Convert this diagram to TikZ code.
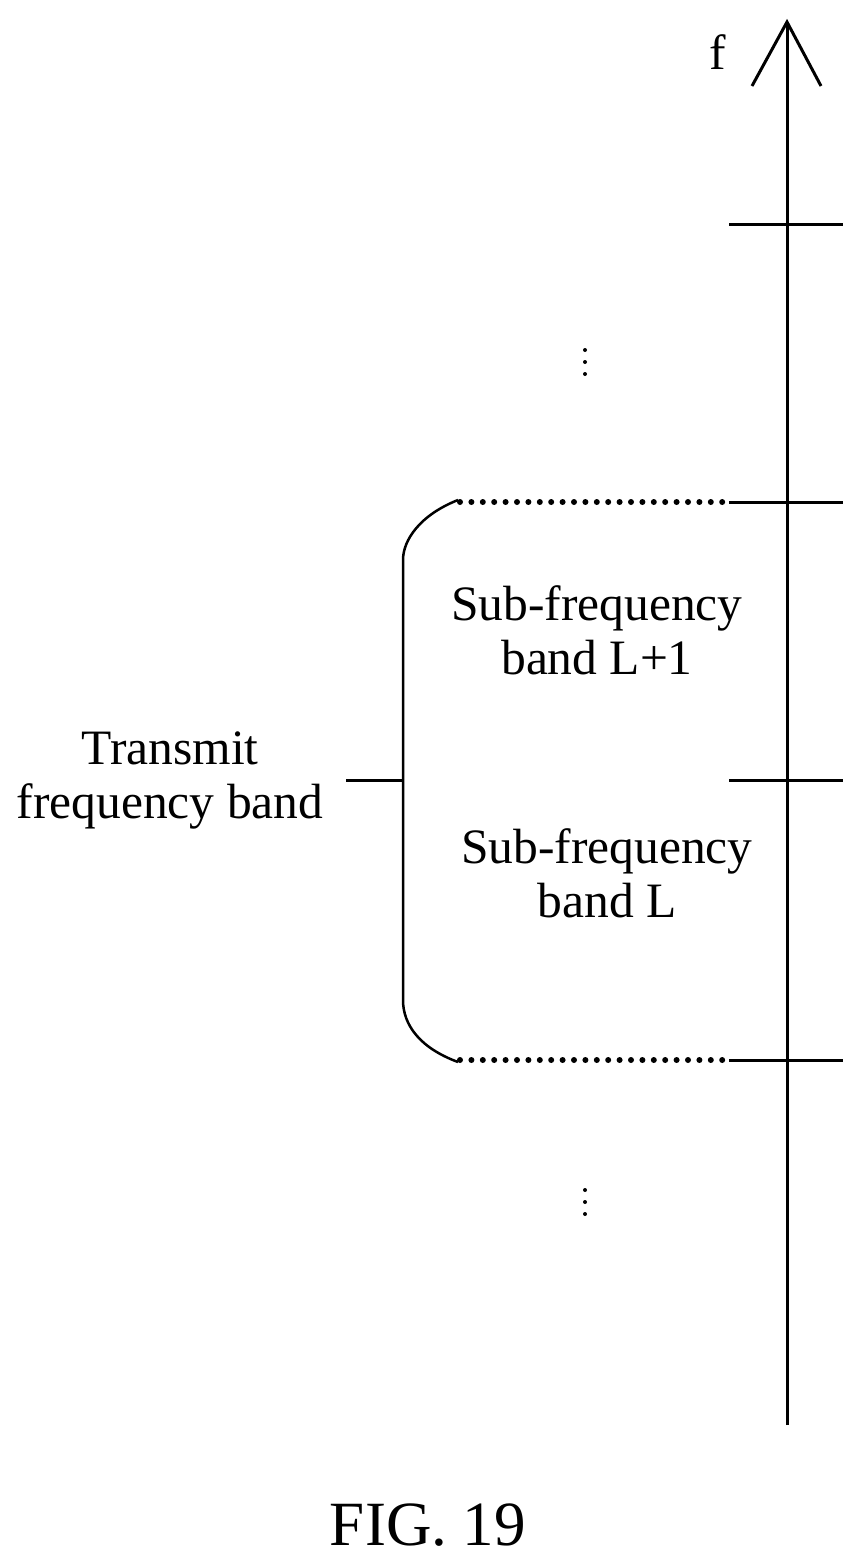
\documentclass[tikz,border=0pt]{standalone}
\usepackage{fontspec}
\setmainfont{Liberation Serif}
\begin{document}
\begin{tikzpicture}[x=1pt,y=-1pt,line width=3pt,
  lbl/.style={align=center,font=\fontsize{49.5}{54}\selectfont},
  dotl/.style={line width=6pt,line cap=round,dash pattern=on 0pt off 11.4pt}]
\useasboundingbox (0,0) rectangle (865,1559);
\coordinate (a0) at (787,1425);
\coordinate (a1) at (787,22);
\draw (a0) -- (a1);
\draw (752,86) -- (a1) -- (821,86);
\node[lbl] (f) at (718,52) {f};
\foreach \y in {224,502,780,1060} \draw (729,\y) -- (843,\y);
\draw[dotl] (460,502) -- (733,502);
\draw[dotl] (460,1060) -- (733,1060);
\draw[line width=2.5pt] (458,500) .. controls (420,515) and (403,540) .. (403,560) -- (403,1000) .. controls (403,1025) and (420,1048) .. (458,1062);
\draw (346,780) -- (403,780);
\draw[dotl,line width=4pt,dash pattern=on 0pt off 12pt] (585,350) -- (585,375);
\draw[dotl,line width=4pt,dash pattern=on 0pt off 12pt] (585,1190) -- (585,1215);
\node[lbl] (s1) at (597,630) {Sub-frequency\\band L+1};
\node[lbl] (s0) at (607,873) {Sub-frequency\\band L};
\node[lbl] (t) at (170,780) {Transmit\\frequency band};
\node[font=\fontsize{63}{70}\selectfont] (fig) at (428,1525) {FIG. 19};
\end{tikzpicture}
\end{document}
